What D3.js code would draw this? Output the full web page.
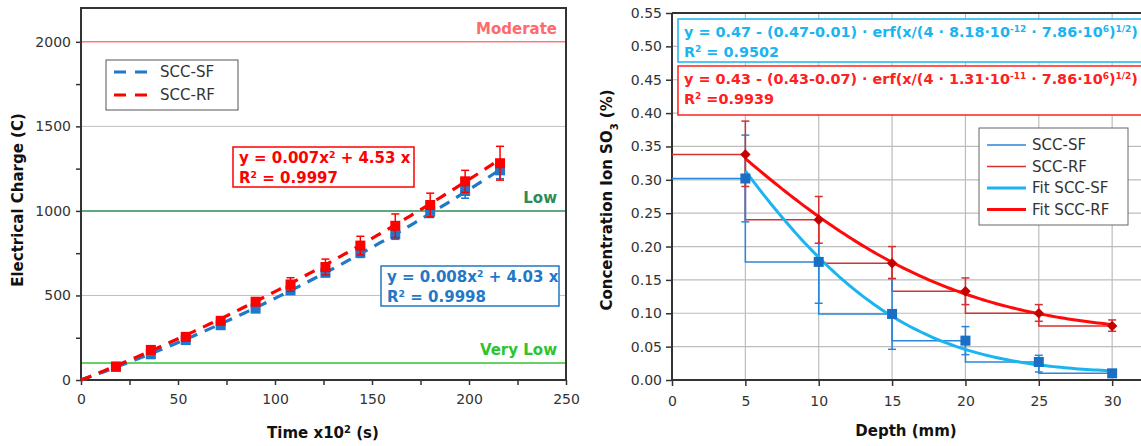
<!DOCTYPE html>
<html><head><meta charset="utf-8">
<script src="https://cdn.jsdelivr.net/npm/d3@7"></script>
<style>
body{margin:0;background:#fff;}
svg{display:block;font-family:"DejaVu Sans",Verdana,sans-serif;}
</style></head>
<body><svg id="c" width="1141" height="446"></svg>
<script>
// ---------- Left chart data ----------
const timeX = [18,36,54,72,90,108,126,144,162,180,198,216];
const chargeSF = [80,152,236,324,422,530,634,752,862,996,1118,1240];
const chargeSFerr = [6,8,10,12,14,18,22,27,30,35,43,50];
const chargeRF = [78,178,255,350,463,565,668,795,912,1035,1175,1282];
const chargeRFerr = [8,10,12,15,20,40,47,55,70,70,65,100];
const fitSF = [0.008, 4.03];   // a x^2 + b x
const fitRF = [0.007, 4.53];
const leftXTicks = [0,50,100,150,200,250];
const leftYTicks = [0,500,1000,1500,2000];
const refLevels = [2000,1000,100];
const refLabels = ["Moderate","Low","Very Low"];

// ---------- Right chart data ----------
const depth = [5,10,15,20,25,30];
const concSF = [0.302,0.177,0.099,0.059,0.027,0.010];
const concSFlo = [0.237,0.115,0.046,0.038,0.012,0.008];
const concSFhi = [0.367,0.240,0.152,0.080,0.037,0.012];
const concRF = [0.338,0.240,0.175,0.133,0.100,0.081];
const concRFlo = [0.290,0.205,0.152,0.113,0.088,0.073];
const concRFhi = [0.388,0.275,0.200,0.153,0.113,0.090];
const erfSF = [0.47,0.01,8.18e-12,7.86e6]; // Cs, Ci, D, t
const erfRF = [0.43,0.07,1.31e-11,7.86e6];
const rightXTicks = [0,5,10,15,20,25,30];
const rightYTicks = [0,0.05,0.10,0.15,0.20,0.25,0.30,0.35,0.40,0.45,0.50,0.55];

const svg = d3.select("#c");
const C_SF = "#1f78c8", C_RF = "#ff0000";
const AX = "#333";

// ================= LEFT CHART =================
const lx = d3.scaleLinear().domain([0,250]).range([81,566]);
const ly = d3.scaleLinear().domain([0,2200]).range([380,8]);
const L = svg.append("g");

L.selectAll(".g").data([500,1500]).join("line")
 .attr("x1",lx(0)).attr("x2",lx(250)).attr("y1",d=>ly(d)).attr("y2",d=>ly(d))
 .attr("stroke","#c0c0c0").attr("stroke-width",1);

const refColors = ["#ff7b7b","#2e8b57","#33c233"];
const refText = ["#ff6b6b","#2e8b57","#2ec42e"];
L.selectAll(".ref").data(refLevels).join("line")
 .attr("x1",lx(0)).attr("x2",lx(250)).attr("y1",d=>ly(d)).attr("y2",d=>ly(d))
 .attr("stroke",(d,i)=>refColors[i]).attr("stroke-width",1.5);
L.selectAll(".reft").data(refLevels).join("text")
 .attr("x",lx(250)-9).attr("y",d=>ly(d)-8).attr("text-anchor","end")
 .attr("font-size",15).attr("font-weight","bold").attr("fill",(d,i)=>refText[i])
 .text((d,i)=>refLabels[i]);

const lxAxis = d3.axisBottom(lx).tickValues(d3.range(0,251,25)).tickSize(5)
 .tickFormat(d=>leftXTicks.includes(d)?d:"");
const gx = L.append("g").attr("transform",`translate(0,${ly(0)})`).call(lxAxis);
const lyAxis = d3.axisLeft(ly).tickValues(d3.range(0,2201,250)).tickSize(5)
 .tickFormat(d=>leftYTicks.includes(d)?d:"");
const gy = L.append("g").attr("transform",`translate(${lx(0)},0)`).call(lyAxis);
[gx,gy].forEach(g=>{
  g.select(".domain").remove();
  g.selectAll("line").attr("stroke",AX).attr("stroke-width",1.5);
  g.selectAll("text").attr("font-size",14).attr("fill","#333").attr("font-family","DejaVu Sans");
});
gx.selectAll("text").attr("dy","1.15em");
gy.selectAll("text").attr("dx","-2");
L.append("rect").attr("x",lx(0)).attr("y",ly(2200)).attr("width",lx(250)-lx(0)).attr("height",ly(0)-ly(2200))
 .attr("fill","none").attr("stroke",AX).attr("stroke-width",2);

const fitX = d3.range(0,216.1,2);
const lline = d3.line().x(d=>lx(d[0])).y(d=>ly(d[1]));
[[fitSF,C_SF],[fitRF,C_RF]].forEach(([f,c])=>{
  L.append("path").datum(fitX.map(x=>[x,f[0]*x*x+f[1]*x]))
   .attr("d",lline).attr("fill","none").attr("stroke",c).attr("stroke-width",3.2)
   .attr("stroke-dasharray","11,8");
});
function leftSeries(vals,errs,c){
  const g=L.append("g");
  timeX.forEach((x,i)=>{
    const px=lx(x), y0=ly(vals[i]-errs[i]), y1=ly(vals[i]+errs[i]);
    g.append("line").attr("x1",px).attr("x2",px).attr("y1",y0).attr("y2",y1).attr("stroke",c).attr("stroke-width",1.5);
    [y0,y1].forEach(yy=>g.append("line").attr("x1",px-4).attr("x2",px+4).attr("y1",yy).attr("y2",yy).attr("stroke",c).attr("stroke-width",1.5));
    g.append("rect").attr("x",px-5).attr("y",ly(vals[i])-5).attr("width",10).attr("height",10).attr("fill",c);
  });
}
leftSeries(chargeSF,chargeSFerr,C_SF);
leftSeries(chargeRF,chargeRFerr,C_RF);

L.append("rect").attr("x",106).attr("y",60).attr("width",132).attr("height",50).attr("fill","#fff").attr("stroke","#555").attr("stroke-width",1);
[["SCC-SF",C_SF],["SCC-RF",C_RF]].forEach(([t,c],i)=>{
  const y=72+i*23;
  L.append("line").attr("x1",114).attr("x2",153).attr("y1",y).attr("y2",y).attr("stroke",c).attr("stroke-width",3).attr("stroke-dasharray","12,9");
  L.append("text").attr("x",160).attr("y",y+5).attr("font-size",15).attr("fill","#333").text(t);
});

function eqBox(g,x,y,w,h,c,lines,fs){
  g.append("rect").attr("x",x).attr("y",y).attr("width",w).attr("height",h).attr("fill","#fff").attr("stroke",c).attr("stroke-width",1.5);
  lines.forEach((parts,i)=>{
    const t=g.append("text").attr("x",x+6).attr("y",y+16+i*20).attr("font-size",fs).attr("font-weight","bold").attr("fill",c);
    parts.forEach(p=>{
      if(typeof p==="string") t.append("tspan").text(p);
      else t.append("tspan").attr("baseline-shift","super").attr("font-size",fs*0.62).text(p.t);
    });
  });
}
eqBox(L,233,147,181,40,C_RF,[["y = 0.007x",{t:"2"}," + 4.53 x"],["R",{t:"2"}," = 0.9997"]],15);
eqBox(L,381,266,178,40,"#1f78c8",[["y = 0.008x",{t:"2"}," + 4.03 x"],["R",{t:"2"}," = 0.9998"]],15);

L.append("text").attr("transform","translate(23,200) rotate(-90)").attr("text-anchor","middle")
 .attr("font-size",15).attr("font-weight","bold").attr("fill","#111").text("Electrical Charge (C)");
const xt=L.append("text").attr("x",323).attr("y",438).attr("text-anchor","middle").attr("font-size",15).attr("font-weight","bold").attr("fill","#111");
xt.append("tspan").text("Time x10");
xt.append("tspan").attr("baseline-shift","super").attr("font-size",10).text("2");
xt.append("tspan").text(" (s)");

// ================= RIGHT CHART =================
const rx = d3.scaleLinear().domain([0,32]).range([672,1141.5]);
const ry = d3.scaleLinear().domain([0,0.55]).range([380,13]);
const R = svg.append("g");
R.selectAll(".vg").data(rightXTicks.slice(1)).join("line")
 .attr("x1",d=>rx(d)).attr("x2",d=>rx(d)).attr("y1",ry(0)).attr("y2",ry(0.55)).attr("stroke","#bdbdbd").attr("stroke-width",1.2);
R.selectAll(".hg").data(rightYTicks.slice(1)).join("line")
 .attr("x1",rx(0)).attr("x2",rx(32)).attr("y1",d=>ry(d)).attr("y2",d=>ry(d)).attr("stroke","#bdbdbd").attr("stroke-width",1.2);
const rxa = R.append("g").attr("transform",`translate(0,${ry(0)})`).call(d3.axisBottom(rx).tickValues(rightXTicks).tickSize(6));
const rya = R.append("g").attr("transform",`translate(${rx(0)},0)`).call(d3.axisLeft(ry).tickValues(rightYTicks).tickSize(6).tickFormat(d3.format(".2f")));
[rxa,rya].forEach(g=>{
  g.select(".domain").remove();
  g.selectAll("line").attr("stroke",AX).attr("stroke-width",1.5);
  g.selectAll("text").attr("font-size",14).attr("fill","#333").attr("font-family","DejaVu Sans");
});
rxa.selectAll("text").attr("dy","1.2em");
rya.selectAll("text").attr("dx","-1");
R.append("line").attr("x1",rx(0)).attr("x2",rx(32)).attr("y1",ry(0)).attr("y2",ry(0)).attr("stroke",AX).attr("stroke-width",2);
R.append("line").attr("x1",rx(0)).attr("x2",rx(32)).attr("y1",ry(0.55)).attr("y2",ry(0.55)).attr("stroke",AX).attr("stroke-width",2);
R.append("line").attr("x1",rx(0)).attr("x2",rx(0)).attr("y1",ry(0)).attr("y2",ry(0.55)).attr("stroke",AX).attr("stroke-width",2);

const stepLine = d3.line().x(d=>rx(d[0])).y(d=>ry(d[1])).curve(d3.curveStepBefore);
const C_SFs="#2a86d8", C_RFs="#d63030", C_SFf="#1ab4f0", C_RFf="#ff0a0a", C_SFm="#1a6fc4", C_RFm="#c40000";
[[concSF,C_SFs],[concRF,C_RFs]].forEach(([v,c])=>{
  const pts=[[0,v[0]]].concat(depth.map((d,i)=>[d,v[i]]));
  R.append("path").datum(pts).attr("d",stepLine).attr("fill","none").attr("stroke",c).attr("stroke-width",1.5);
});
function rErr(v,lo,hi,c){
  depth.forEach((d,i)=>{
    const px=rx(d);
    R.append("line").attr("x1",px).attr("x2",px).attr("y1",ry(lo[i])).attr("y2",ry(hi[i])).attr("stroke",c).attr("stroke-width",1.5);
    [lo[i],hi[i]].forEach(yv=>R.append("line").attr("x1",px-4).attr("x2",px+4).attr("y1",ry(yv)).attr("y2",ry(yv)).attr("stroke",c).attr("stroke-width",1.5));
  });
}
rErr(concSF,concSFlo,concSFhi,C_SFs);
rErr(concRF,concRFlo,concRFhi,C_RFs);

function erf(x){
  const s=x<0?-1:1; x=Math.abs(x);
  const a1=0.254829592,a2=-0.284496736,a3=1.421413741,a4=-1.453152027,a5=1.061405429,p=0.3275911;
  const t=1/(1+p*x);
  const y=1-(((((a5*t+a4)*t)+a3)*t+a2)*t+a1)*t*Math.exp(-x*x);
  return s*y;
}
const fitDepth = d3.range(5,30.01,0.25);
const rline = d3.line().x(d=>rx(d[0])).y(d=>ry(d[1]));
[[erfSF,C_SFf],[erfRF,C_RFf]].forEach(([p,c])=>{
  const pts=fitDepth.map(x=>[x,p[0]-(p[0]-p[1])*erf((x/1000)/Math.sqrt(4*p[2]*p[3]))]);
  R.append("path").datum(pts).attr("d",rline).attr("fill","none").attr("stroke",c).attr("stroke-width",3);
});
depth.forEach((d,i)=>{
  R.append("rect").attr("x",rx(d)-5).attr("y",ry(concSF[i])-5).attr("width",10).attr("height",10).attr("fill",C_SFm);
  R.append("path").attr("d",d3.symbol(d3.symbolDiamond2,70)()).attr("transform",`translate(${rx(d)},${ry(concRF[i])})`).attr("fill",C_RFm);
});

function eqBox2(x,y,w,h,c,l1,l2){
  R.append("rect").attr("x",x).attr("y",y).attr("width",w).attr("height",h).attr("fill","#fff").attr("stroke",c).attr("stroke-width",1.5);
  [l1,l2].forEach((parts,i)=>{
    const t=R.append("text").attr("x",x+6).attr("y",y+18+i*20).attr("font-size",14.4).attr("font-weight","bold").attr("fill",c);
    parts.forEach(p=>{
      if(typeof p==="string") t.append("tspan").text(p);
      else t.append("tspan").attr("baseline-shift","super").attr("font-size",9).text(p.t);
    });
  });
}
eqBox2(678,19,470,43,"#1ab4f0",
 ["y = 0.47 - (0.47-0.01) · erf(x/(4 · 8.18·10",{t:"-12"}," · 7.86·10",{t:"6"},")",{t:"1/2"},")"],
 ["R",{t:"2"}," = 0.9502"]);
eqBox2(678,66,470,49,"#ff2020",
 ["y = 0.43 - (0.43-0.07) · erf(x/(4 · 1.31·10",{t:"-11"}," · 7.86·10",{t:"6"},")",{t:"1/2"},")"],
 ["R",{t:"2"}," =0.9939"]);

R.append("rect").attr("x",979).attr("y",128).attr("width",149).attr("height",97).attr("fill","#fff").attr("stroke","#666").attr("stroke-width",1);
[["SCC-SF",C_SFs,1.5],["SCC-RF",C_RFs,1.5],["Fit SCC-SF",C_SFf,3],["Fit SCC-RF",C_RFf,3]].forEach(([t,c,w],i)=>{
  const y=145+i*21.5;
  R.append("line").attr("x1",987).attr("x2",1026).attr("y1",y).attr("y2",y).attr("stroke",c).attr("stroke-width",w);
  R.append("text").attr("x",1032).attr("y",y+5).attr("font-size",15).attr("fill","#333").text(t);
});

const yt=R.append("text").attr("transform","translate(612,200) rotate(-90)").attr("text-anchor","middle").attr("font-size",15).attr("font-weight","bold").attr("fill","#111");
yt.append("tspan").text("Concentration Ion SO");
yt.append("tspan").attr("baseline-shift","sub").attr("font-size",10).text("3");
yt.append("tspan").text(" (%)");
R.append("text").attr("x",906).attr("y",436).attr("text-anchor","middle").attr("font-size",15).attr("font-weight","bold").attr("fill","#111").text("Depth (mm)");
</script></body></html>
